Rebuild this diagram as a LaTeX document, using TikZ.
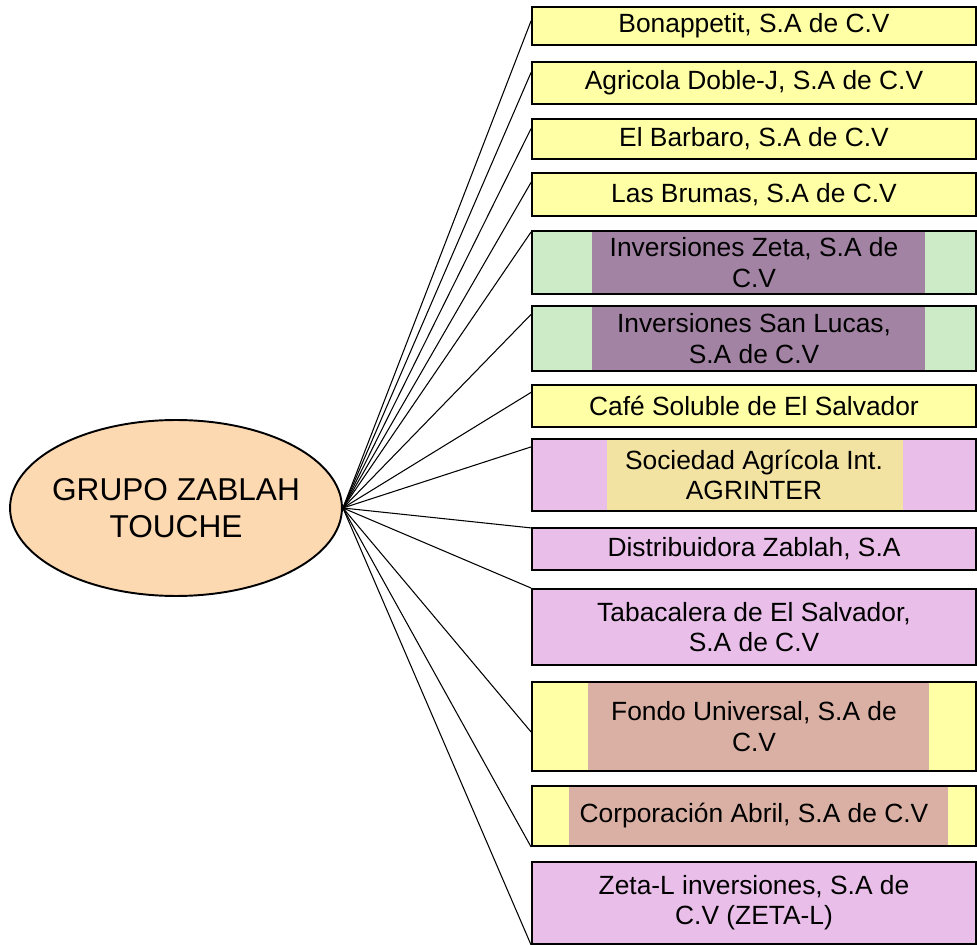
\documentclass[tikz,border=0pt]{standalone}
\usepackage{fontspec}
\setmainfont{Liberation Sans}
\usetikzlibrary{calc,positioning,shapes.geometric}

\definecolor{amarillo}{HTML}{FFFFA6}
\definecolor{verde}{HTML}{CDEBC6}
\definecolor{rosa}{HTML}{E9BFE9}
\definecolor{malva}{HTML}{A283A3}
\definecolor{oro}{HTML}{F3E3A3}
\definecolor{tostado}{HTML}{D9B0A3}
\definecolor{durazno}{HTML}{FDD9B2}

\begin{document}
\begin{tikzpicture}[x=0.02cm, y=-0.02cm,
  empresa/.style={draw, line width=1.1pt, minimum width=8.88cm, inner sep=0pt,
    align=center, font=\fontsize{15}{17.2}\selectfont},
  resalte/.style n args={3}{path picture={
    \fill[#1] ($(path picture bounding box.center)+(#2,-60)$)
      rectangle ($(path picture bounding box.center)+(#3,60)$);}},
  enlace/.style={line width=0.6pt}]

\useasboundingbox (0,0) rectangle (977,945);

% =================== grupo ===================
\node[ellipse, draw, line width=1.1pt, fill=durazno, inner sep=0pt,
  minimum width=6.64cm, minimum height=3.52cm] (grupo) at (176,508) {};
\node[align=center, font=\fontsize{18}{21}\selectfont] (grupotxt) at (grupo.center)
  {GRUPO ZABLAH\\TOUCHE};

% =================== empresas ===================
\node[empresa, fill=amarillo, minimum height=0.76cm] (e1) at (754,26) {Bonappetit, S.A de C.V};
\node[empresa, fill=amarillo, minimum height=0.84cm] (e2) at (754,83) {Agricola Doble-J, S.A de C.V};
\node[empresa, fill=amarillo, minimum height=0.80cm] (e3) at (754,139) {El Barbaro, S.A de C.V};
\node[empresa, fill=amarillo, minimum height=0.86cm] (e4) at (754,194.5) {Las Brumas, S.A de C.V};
\node[empresa, fill=verde, resalte={malva}{-162}{171}, minimum height=1.26cm] (e5) at (754,262.5)
  {Inversiones Zeta, S.A de\\C.V};
\node[empresa, fill=verde, resalte={malva}{-162}{171}, minimum height=1.30cm] (e6) at (754,338.5)
  {Inversiones San Lucas,\\S.A de C.V};
\node[empresa, fill=amarillo, minimum height=0.84cm] (e7) at (754,406) {Café Soluble de El Salvador};
\node[empresa, fill=rosa, resalte={oro}{-147}{149}, minimum height=1.44cm] (e8) at (754,475)
  {Sociedad Agrícola Int.\\AGRINTER};
\node[empresa, fill=rosa, minimum height=0.84cm] (e9) at (754,549) {Distribuidora Zablah, S.A};
\node[empresa, fill=rosa, minimum height=1.52cm] (e10) at (754,627)
  {Tabacalera de El Salvador,\\S.A de C.V};
\node[empresa, fill=amarillo, resalte={tostado}{-166}{175}, minimum height=1.78cm] (e11) at (754,726.5)
  {Fondo Universal, S.A de\\C.V};
\node[empresa, fill=amarillo, resalte={tostado}{-185}{194}, minimum height=1.20cm] (e12) at (754,816)
  {Corporación Abril, S.A de C.V};
\node[empresa, fill=rosa, minimum height=1.64cm] (e13) at (754,903)
  {Zeta-L inversiones, S.A de\\C.V (ZETA-L)};

% enlaces: each ends on the left side of its box
\foreach \i/\t in {1/0.37, 2/0.26, 3/0.25, 4/0.23, 5/0.03, 6/0.14, 7/0.19,
                   8/0.12, 9/0.02, 10/0, 11/0.56, 12/1, 13/1}{
  \draw[enlace] (grupo.east) -- ($(e\i.north west)!\t!(e\i.south west)$);
}

\end{tikzpicture}
\end{document}
